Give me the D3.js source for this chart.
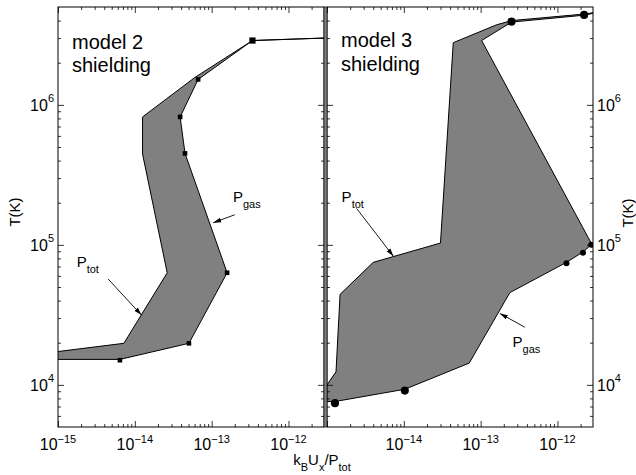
<!DOCTYPE html>
<html>
<head>
<meta charset="utf-8">
<script src="https://cdn.jsdelivr.net/npm/d3@7/dist/d3.min.js"></script>
<style>
  body { margin: 0; background: #fff; }
  svg { display: block; }
  text { font-family: "Liberation Sans", Arial, Helvetica, sans-serif; fill: #000; }
</style>
</head>
<body>
<svg id="chart" width="636" height="475"></svg>
<script>
// ---------- data ----------
const xDomain = [1e-15, 2.9e-12];
const tDomain = [5e3, 5e6];
const xMajorTicks = [1e-15, 1e-14, 1e-13, 1e-12];
const xTickExponents = ["\u221215", "\u221214", "\u221213", "\u221212"];
const tMajorTicks = [1e4, 1e5, 1e6];
const tTickExponents = ["4", "5", "6"];

// model 2 shielding: total-pressure and gas-pressure curves (x = kB Ux / P, T in K)
const ptot2X = [1e-15, 7.2e-15, 2.64e-14, 1.26e-14, 1.26e-14, 6.05e-14, 3.4e-13, 2.9e-12];
const ptot2T = [1.73e4, 1.98e4, 6.32e4, 4.46e5, 8.2e5, 1.57e6, 2.88e6, 3.0e6];
const pgas2X = [1e-15, 6.4e-15, 5.06e-14, 1.59e-13, 4.5e-14, 3.89e-14, 6.67e-14, 3.4e-13, 2.9e-12];
const pgas2T = [1.52e4, 1.52e4, 1.98e4, 6.32e4, 4.5e5, 8.2e5, 1.52e6, 2.88e6, 3.0e6];
const marks2X = [6.67e-14, 3.89e-14, 4.5e-14, 1.59e-13, 5.06e-14, 6.4e-15];
const marks2T = [1.52e6, 8.2e5, 4.5e5, 6.32e4, 1.98e4, 1.5e4];
const marks2LargeX = [3.4e-13];
const marks2LargeT = [2.88e6];

// model 3 shielding
const ptot3X = [1e-15, 1.31e-15, 1.48e-15, 4.0e-15, 3.0e-14, 4.4e-14, 1.61e-13, 2.52e-13, 2.22e-12, 2.9e-12];
const ptot3T = [1.0e4, 1.24e4, 4.43e4, 7.5e4, 1.03e5, 2.78e6, 3.73e6, 4.0e6, 4.45e6, 4.55e6];
const pgas3X = [1e-15, 1.27e-15, 1.03e-14, 7.1e-14, 2.4e-13, 1.31e-12, 2.15e-12, 2.8e-12, 1.03e-13, 2.52e-13, 2.22e-12, 2.9e-12];
const pgas3T = [7.6e3, 7.6e3, 9.3e3, 1.43e4, 4.56e4, 7.5e4, 8.9e4, 1.01e5, 2.88e6, 3.9e6, 4.37e6, 4.5e6];
const marks3X = [1.31e-12, 2.15e-12, 2.75e-12];
const marks3T = [7.4e4, 8.8e4, 1.0e5];
const marks3LargeX = [1.27e-15, 1.03e-14, 2.52e-13, 2.22e-12];
const marks3LargeT = [7.4e3, 9.1e3, 3.93e6, 4.39e6];

// annotation anchors (data coordinates): label, arrow tail, arrow tip
const notes2 = [
  { sub: "gas", label: [1.89e-13, 2.04e5], tail: [2.0e-13, 1.64e5], tip: [1.05e-13, 1.44e5] },
  { sub: "tot", label: [1.75e-15, 6.98e4], tail: [4.5e-15, 5.7e4], tip: [1.22e-14, 3.15e4] }
];
const notes3 = [
  { sub: "tot", label: [1.55e-15, 2.04e5], tail: [2.43e-15, 1.82e5], tip: [7.3e-15, 8.3e4] },
  { sub: "gas", label: [2.6e-13, 1.87e4], tail: [3.76e-13, 2.58e4], tip: [1.78e-13, 3.24e4] }
];

// ---------- layout ----------
const svg = d3.select("#chart");
const plotTop = 7, plotBottom = 427;
const panels = [
  { left: 58, right: 324, title: ["model 2", "shielding"], titleY: [49, 72],
    ptotX: ptot2X, ptotT: ptot2T, pgasX: pgas2X, pgasT: pgas2T,
    mX: marks2X, mT: marks2T, mLX: marks2LargeX, mLT: marks2LargeT,
    marker: "square", notes: notes2, labelSide: "left" },
  { left: 327, right: 593, title: ["model 3", "shielding"], titleY: [47, 71],
    ptotX: ptot3X, ptotT: ptot3T, pgasX: pgas3X, pgasT: pgas3T,
    mX: marks3X, mT: marks3T, mLX: marks3LargeX, mLT: marks3LargeT,
    marker: "circle", notes: notes3, labelSide: "right" }
];

// arrowhead
svg.append("defs").append("marker")
  .attr("id", "arrow").attr("markerUnits", "userSpaceOnUse")
  .attr("markerWidth", 9).attr("markerHeight", 6)
  .attr("refX", 8).attr("refY", 3).attr("orient", "auto")
  .append("path").attr("d", "M0,0.6 L8,3 L0,5.4 Z").attr("fill", "#000");

function minorTicks(domain) {
  const out = [];
  const d0 = Math.floor(Math.log10(domain[0])), d1 = Math.ceil(Math.log10(domain[1]));
  for (let d = d0; d <= d1; d++) {
    for (let m = 2; m <= 9; m++) {
      const v = m * Math.pow(10, d);
      if (v > domain[0] * 1.0001 && v < domain[1] * 0.9999) out.push(v);
    }
  }
  return out;
}
const xMinor = minorTicks(xDomain);
const tMinor = minorTicks(tDomain);

panels.forEach((p, pi) => {
  const x = d3.scaleLog().domain(xDomain).range([p.left, p.right]);
  const y = d3.scaleLog().domain(tDomain).range([plotBottom, plotTop]);
  const clipId = "clip" + pi;
  svg.append("clipPath").attr("id", clipId).append("rect")
    .attr("x", p.left).attr("y", plotTop).attr("width", p.right - p.left).attr("height", plotBottom - plotTop);

  const g = svg.append("g");
  const plot = g.append("g").attr("clip-path", `url(#${clipId})`);

  const ptot = p.ptotX.map((v, i) => [v, p.ptotT[i]]);
  const pgas = p.pgasX.map((v, i) => [v, p.pgasT[i]]);
  const line = d3.line().x(d => x(d[0])).y(d => y(d[1]));

  // shaded band between the two curves
  plot.append("path")
    .attr("d", line(ptot.concat(pgas.slice().reverse())) + "Z")
    .attr("fill", "#808080").attr("stroke", "none");

  [ptot, pgas].forEach(c => {
    plot.append("path").attr("d", line(c))
      .attr("fill", "none").attr("stroke", "#000").attr("stroke-width", 1)
      .attr("stroke-linejoin", "round");
  });

  // markers
  const marks = p.mX.map((v, i) => [v, p.mT[i], 1]);
  const marksL = p.mLX.map((v, i) => [v, p.mLT[i], 1.35]);
  const allMarks = marks.concat(marksL);
  if (p.marker === "square") {
    plot.selectAll("rect.mk").data(allMarks).join("rect").attr("class", "mk")
      .attr("x", d => x(d[0]) - 2.3 * d[2]).attr("y", d => y(d[1]) - 2.3 * d[2])
      .attr("width", d => 4.6 * d[2]).attr("height", d => 4.6 * d[2]).attr("fill", "#000");
  } else {
    plot.selectAll("circle.mk").data(allMarks).join("circle").attr("class", "mk")
      .attr("cx", d => x(d[0])).attr("cy", d => y(d[1]))
      .attr("r", d => 3 * d[2]).attr("fill", "#000");
  }

  // axes (ticks point inward)
  const fmtNone = () => "";
  const axes = [
    [() => d3.axisBottom(x), `translate(0,${plotBottom})`, xMajorTicks, xMinor],
    [() => d3.axisTop(x), `translate(0,${plotTop})`, xMajorTicks, xMinor],
    [() => d3.axisLeft(y), `translate(${p.left},0)`, tMajorTicks, tMinor],
    [() => d3.axisRight(y), `translate(${p.right},0)`, tMajorTicks, tMinor]
  ];
  axes.forEach(([mk, tr, major, minor]) => {
    const a1 = g.append("g").attr("transform", tr)
      .call(mk().tickValues(major).tickSizeInner(-6).tickSizeOuter(0).tickFormat(fmtNone));
    a1.select(".domain").remove();
    const a2 = g.append("g").attr("transform", tr)
      .call(mk().tickValues(minor).tickSizeInner(-3).tickSizeOuter(0).tickFormat(fmtNone));
    a2.select(".domain").remove();
  });
  g.selectAll(".tick line").attr("stroke", "#000").attr("stroke-width", 0.8);

  // frame
  g.append("rect").attr("x", p.left).attr("y", plotTop)
    .attr("width", p.right - p.left).attr("height", plotBottom - plotTop)
    .attr("fill", "none").attr("stroke", "#000").attr("stroke-width", 1);

  // x tick labels (the shared 10^-15 is drawn once, by the left panel)
  xMajorTicks.forEach((t, i) => {
    if (pi === 0 || i > 0) {
      const tx = g.append("text").attr("x", x(t)).attr("y", 450)
        .attr("text-anchor", "middle").attr("font-size", 16);
      tx.append("tspan").text("10");
      tx.append("tspan").attr("dy", -7).attr("font-size", 11).text(xTickExponents[i]);
    }
  });

  // y tick labels
  tMajorTicks.forEach((t, i) => {
    const left = p.labelSide === "left";
    const tx = g.append("text")
      .attr("x", left ? p.left - 4 : p.right + 4)
      .attr("y", y(t) + 6)
      .attr("text-anchor", left ? "end" : "start").attr("font-size", 16);
    tx.append("tspan").text("10");
    tx.append("tspan").attr("dy", -9).attr("font-size", 11).text(tTickExponents[i]);
  });

  // panel title
  p.title.forEach((s, i) => {
    g.append("text").attr("x", p.left + 14).attr("y", p.titleY[i])
      .attr("font-size", 20).text(s);
  });

  // annotations
  p.notes.forEach(n => {
    g.append("line")
      .attr("x1", x(n.tail[0])).attr("y1", y(n.tail[1]))
      .attr("x2", x(n.tip[0])).attr("y2", y(n.tip[1]))
      .attr("stroke", "#000").attr("stroke-width", 0.9)
      .attr("marker-end", "url(#arrow)");
    const tx = g.append("text").attr("x", x(n.label[0])).attr("y", y(n.label[1]))
      .attr("font-size", 15);
    tx.append("tspan").text("P");
    tx.append("tspan").attr("dy", 6).attr("font-size", 11).text(n.sub);
  });
});

// divider strip between the two panels
svg.append("rect").attr("x", 324).attr("y", plotTop).attr("width", 3).attr("height", plotBottom - plotTop)
  .attr("fill", "#808080").attr("stroke", "#000").attr("stroke-width", 0.6);

// axis titles
const xt = svg.append("text").attr("x", 322).attr("y", 465)
  .attr("text-anchor", "middle").attr("font-size", 15);
xt.append("tspan").text("k");
xt.append("tspan").attr("dy", 6).attr("font-size", 11).text("B");
xt.append("tspan").attr("dy", -6).text("U");
xt.append("tspan").attr("dy", 6).attr("font-size", 11).text("x");
xt.append("tspan").attr("dy", -6).text("/P");
xt.append("tspan").attr("dy", 6).attr("font-size", 11).text("tot");

svg.append("text").attr("transform", "translate(20,212) rotate(-90)")
  .attr("text-anchor", "middle").attr("font-size", 15).text("T(K)");
svg.append("text").attr("transform", "translate(633,213) rotate(-90)")
  .attr("text-anchor", "middle").attr("font-size", 15).text("T(K)");
</script>
</body>
</html>
